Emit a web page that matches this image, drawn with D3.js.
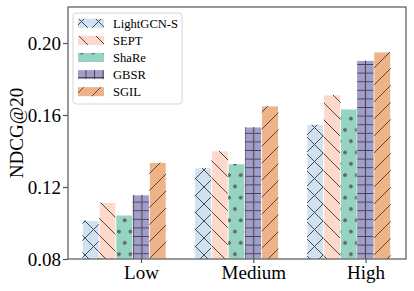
<!DOCTYPE html>
<html lang="en">
	<head>
		<meta charset="utf-8">
		<title>NDCG@20 by group</title>
		<script type="text/javascript" src="https://cdn.jsdelivr.net/npm/d3@7"></script>
		<style>
			body { margin: 0; background: #fff; }
			text { font-family: "Liberation Serif", "Times New Roman", serif; fill: #000; }
			.axis path, .axis line { stroke: #555; stroke-width: 1.2; }
			.axis text { font-size: 19px; font-family: "Liberation Serif", serif; fill: #000; }
		</style>
	</head>
	<body>
		<script type="text/javascript">
			var groups = ["Low", "Medium", "High"];
			var methods = ["LightGCN-S", "SEPT", "ShaRe", "GBSR", "SGIL"];
			var colors = ["#cfe1f2", "#fdd8cb", "#95d4c2", "#a19dcc", "#efb387"];
			var hatches = ["cross", "back", "dots", "grid", "fwd"];
			// one value per group, for each method
			var lightgcn = [0.1013, 0.1306, 0.1546];
			var sept     = [0.1113, 0.1400, 0.1711];
			var share    = [0.1044, 0.1328, 0.1633];
			var gbsr     = [0.1156, 0.1533, 0.1902];
			var sgil     = [0.1335, 0.1650, 0.1950];
			var yTicks = [0.08, 0.12, 0.16, 0.20];

			var series = [lightgcn, sept, share, gbsr, sgil];
			var w = 414, h = 291;
			var pLeft = 68, pRight = 406, pTop = 7, pBottom = 259;
			var bw = 0.149;

			var svg = d3.select("body").append("svg")
						.attr("width", w)
						.attr("height", h);

			var defs = svg.append("defs");
			var hc = "#4a4a4a";

			// hatch patterns
			function pat(id, wd, ht) {
				return defs.append("pattern").attr("id", id)
					.attr("patternUnits", "userSpaceOnUse")
					.attr("width", wd).attr("height", ht);
			}
			var P = 17;
			var p = pat("fwd", P, P);
			p.append("path").attr("d", "M0," + P + "L" + P + ",0M-2,2L2,-2M" + (P-2) + "," + (P+2) + "L" + (P+2) + "," + (P-2))
				.attr("stroke", hc).attr("stroke-width", 1);
			p = pat("back", P, P);
			p.append("path").attr("d", "M0,0L" + P + "," + P + "M-2," + (P-2) + "L2," + (P+2) + "M" + (P-2) + ",-2L" + (P+2) + ",2")
				.attr("stroke", hc).attr("stroke-width", 1);
			p = pat("cross", P, P);
			p.append("path").attr("d", "M0," + P + "L" + P + ",0M0,0L" + P + "," + P)
				.attr("stroke", hc).attr("stroke-width", 1);
			var G = 8.6;
			p = pat("grid", G, G);
			p.append("path").attr("d", "M0," + (G/2) + "H" + G + "M" + (G/2) + ",0V" + G)
				.attr("stroke", hc).attr("stroke-width", 1.1);
			p = pat("dots", 11.6, 22.6);
			p.append("circle").attr("cx", 2.9).attr("cy", 5.6).attr("r", 1.6).attr("fill", "#666").attr("stroke", hc).attr("stroke-width", 0.5);
			p.append("circle").attr("cx", 8.7).attr("cy", 16.9).attr("r", 1.6).attr("fill", "#666").attr("stroke", hc).attr("stroke-width", 0.5);

			var xScale = d3.scaleLinear().domain([-0.65, 2.36]).range([pLeft, pRight]);
			var yScale = d3.scaleLinear().domain([0.08, 0.22]).range([pBottom, pTop]);

			// bars
			series.forEach(function(vals, j) {
				var g = svg.append("g");
				var rects = vals.map(function(v, i) {
					return {x0: i + (j - 3) * bw - bw / 2, v: v};
				});
				[colors[j], "url(#" + hatches[j] + ")"].forEach(function(fill) {
					g.selectAll(null).data(rects).enter().append("rect")
						.attr("x", function(d) { return xScale(d.x0); })
						.attr("y", function(d) { return yScale(d.v); })
						.attr("width", function(d) { return xScale(d.x0 + bw) - xScale(d.x0); })
						.attr("height", function(d) { return yScale(0.08) - yScale(d.v); })
						.attr("fill", fill)
						.attr("stroke", fill === colors[j] ? "#fff" : "none")
						.attr("stroke-width", 0.8);
				});
			});

			// axes
			svg.append("g").attr("class", "axis")
				.attr("transform", "translate(" + pLeft + ",0)")
				.call(d3.axisLeft(yScale).tickValues(yTicks).tickFormat(d3.format(".2f")).tickSize(5).tickSizeOuter(0).tickPadding(2))
				.call(function(g) { g.select(".domain").remove(); });
			svg.append("g").attr("class", "axis")
				.attr("transform", "translate(0," + pBottom + ")")
				.call(d3.axisBottom(xScale).tickValues([0, 1, 2]).tickFormat(function(d) { return groups[d]; }).tickSize(4).tickSizeOuter(0).tickPadding(3))
				.call(function(g) { g.select(".domain").remove(); });

			svg.append("rect")
				.attr("x", pLeft).attr("y", pTop)
				.attr("width", pRight - pLeft).attr("height", pBottom - pTop)
				.attr("fill", "none").attr("stroke", "#555").attr("stroke-width", 1.2);

			svg.append("text")
				.attr("transform", "translate(23," + ((pTop + pBottom) / 2) + ") rotate(-90)")
				.attr("text-anchor", "middle")
				.style("font-size", "19px")
				.text("NDCG@20");

			// legend
			var leg = svg.append("g").attr("transform", "translate(73,13)");
			leg.append("rect").attr("width", 109).attr("height", 91).attr("rx", 3)
				.attr("fill", "#fff").attr("stroke", "#d5d5d5").attr("stroke-width", 1);
			methods.forEach(function(m, j) {
				var cy = 10.3 + j * 17.1;
				[colors[j], "url(#" + hatches[j] + ")"].forEach(function(fill) {
					leg.append("rect").attr("x", 5).attr("y", cy - 4.5)
						.attr("width", 26).attr("height", 9).attr("fill", fill);
				});
				leg.append("text").attr("x", 40).attr("y", cy)
					.attr("dy", "0.35em")
					.style("font-size", "12.6px")
					.text(m);
			});
		</script>
	</body>
</html>
